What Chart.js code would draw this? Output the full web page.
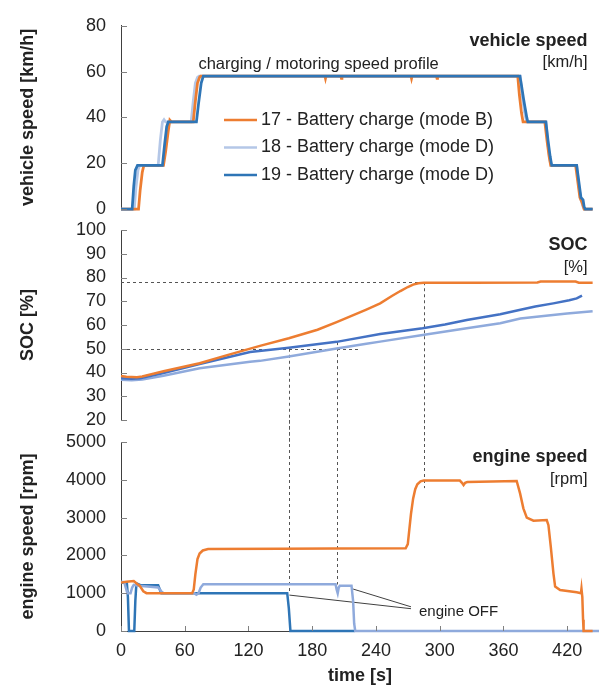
<!DOCTYPE html>
<html lang="en">
<head>
<meta charset="UTF-8" />
<title>Battery charge tests</title>
<script src="https://cdn.jsdelivr.net/npm/chart.js"></script>
<style>
  body { margin: 0; background: #fff; }
  .stack { position: relative; width: 599px; height: 687px; }
  .stack canvas { position: absolute; left: 0; top: 0; }
</style>
</head>
<body>
<div class="stack">
  <canvas id="speedChart" width="599" height="687"></canvas>
  <canvas id="socChart" width="599" height="687"></canvas>
  <canvas id="engineChart" width="599" height="687"></canvas>
</div>
<script>
// [time s, value] pairs
const seriesLabels = ['17 - Battery charge (mode B)', '18 - Battery charge (mode D)', '19 - Battery charge (mode D)'];

const speed17 = [[0,0],[16.5,0],[18,8],[20,16],[21.5,19],[40,19],[42,25],[44.5,34],[46,38.8],[47.5,38],[68,38],[70,47],[72,55],[74,57.5],[75,58],
  [192,58],[192.5,57],[193,58],[207,58],[207.5,57],[208,58],[273,58],[273.5,57],[274,58],[297,58],[297.5,57],[298,58],
  [373.5,58],[375,50],[377,42],[378.5,38],[399,38],[401,30],[403,23],[404.5,19],[428,19],[430,12],[432,5],[434,3],[436,0],[444,0]];
const speed18 = [[0,0],[12.5,0],[14,9],[16,17],[17.5,19],[35,19],[37,30],[39,38],[40.5,39],[42,38],[66,38],[68,47],[70,55],[72,57.5],[73.5,58],
  [376,58],[377.5,50],[380,42],[382,38],[400,38],[402,28],[404,21],[405.5,19],[429,19],[431,10],[433,4],[435,1],[436,0],[444,0]];
const speed19 = [[0,0],[10.5,0],[12,10],[13.5,17],[15.5,19],[39,19],[41,28],[43,36],[44.5,38],[71,38],[73,46],[75.5,55],[77.5,58],
  [375.5,58],[377,54],[379,48],[380.5,44],[382,40],[383,38],[400,38],[402,30],[404,23],[405.5,19],[429,19],[431,12],[433,5],[435,4],[436,1],[437,0],[444,0]];

const soc17 = [[0,38.5],[5,38.2],[15,38],[20,38.3],[40,40.5],[74,43.9],[100,47.3],[130.8,51.2],[158,54.4],[185,58],[203,61.2],[231,66.5],
  [244,69.1],[255,72.2],[263,74.3],[270,76],[275,77],[280,77.6],[285,77.8],[330,77.8],[392,77.9],[395,78.3],[428,78.3],[431,77.8],[444,77.8]];
const soc18 = [[0,36.9],[10,36.7],[20,37],[40,38.6],[74,41.8],[121.5,44.5],[130.8,44.9],[158,46.7],[203,50.1],[231,52.1],[244,53],
  [284,55.8],[325.5,58.6],[357,60.7],[376,62.7],[400,63.9],[420,64.8],[444,65.8]];
const soc19 = [[0,37.6],[10,37.4],[18,37.6],[40,39.8],[74,43.6],[121.5,48.6],[158,50.4],[203,52.9],[244,56.2],[284,58.6],[305,60.2],
  [325.5,62.1],[357,64.5],[375,66.3],[390,67.8],[407,69.1],[422,70.4],[429,71.2],[434,72.4]];

const rpm17 = [[0,1280],[5,1300],[12,1320],[15,1250],[17.5,1200],[21,1050],[24,1000],[67,1000],[68.5,1100],[70,1500],[72,1900],[74,2050],
  [77,2130],[82,2170],[150,2175],[200,2180],[268,2190],[270,2300],[271.5,2700],[273,3100],[275,3500],[277,3750],[279,3880],[282,3960],
  [285,3980],[319,3980],[321,3920],[322.5,3860],[324,3920],[326,3940],[372.5,3970],[375.7,3640],[378.8,3245],[382,3000],[388.3,2920],
  [400.8,2935],[402.4,2800],[404.6,2230],[407.1,1525],[408.7,1175],[413.4,1085],[429,1025],[433,1000],[433.5,1120],[434.3,900],[435,300],[435.5,0],[444,0]];
const rpm18 = [[0,1300],[3,1290],[4.5,1150],[6,1000],[9,1000],[10.5,1150],[12,1220],[16,1200],[25,1180],[35,1150],[38,1050],[40,1000],
  [69,1000],[71,960],[73,1000],[75,1150],[77.5,1235],[202,1235],[203,1100],[204,1000],[205,1150],[206,1200],[217,1200],[218.5,800],
  [219.5,200],[220.5,0],[450,0]];
const rpm19 = [[0,1280],[5.5,1270],[6.5,900],[7.5,0],[12.5,0],[13.5,800],[14.5,1260],[18,1220],[35,1210],[36.5,1100],[38,1000],
  [156.5,1000],[158,600],[159.5,0],[220,0]];

// dashed guides: times and where they start/stop
const guideTimes = [158, 203.3, 285];
const guideSoc = [50, 52.8, 78];
const guideRpm = [1000, 1230, 3780];
const socLevels = [50, 78];
const socLevelEnds = [225, 338];
// "engine OFF" leader lines: [t0, rpm0, t1, rpm1]
const offLeaders = [[158.5, 950, 273, 590], [218.5, 1110, 273, 640]];

const FONT = '"Liberation Sans", Arial, sans-serif';
const TXT = '#222';
const ORANGE = '#ED7D31';
Chart.defaults.font.family = FONT;
Chart.defaults.color = TXT;

function line(label, data, color, width) {
  return {
    label: label,
    data: data.map(p => ({ x: p[0], y: p[1] })),
    borderColor: color,
    backgroundColor: color,
    borderWidth: width,
    pointRadius: 0,
    tension: 0,
    clip: false
  };
}

function yAxis(min, max, step, title) {
  return {
    min: min, max: max,
    ticks: { stepSize: step, padding: 15, autoSkip: false, font: { size: 18 }, color: TXT, callback: v => String(v) },
    grid: { display: false, drawTicks: false },
    border: { display: true, color: '#404040', width: 1 },
    title: { display: true, text: title, color: TXT, font: { size: 18, weight: 'bold' }, padding: { top: 17, bottom: 0 } },
    afterFit(scale) { scale.width = 121; }
  };
}

function xAxis(show) {
  const axis = {
    type: 'linear', min: 0, max: 450, display: show,
    ticks: { stepSize: 60, includeBounds: false, padding: 9, autoSkip: false, maxRotation: 0, font: { size: 18 }, color: TXT, callback: v => String(v) },
    grid: { display: false, drawTicks: false },
    border: { display: true, color: '#404040', width: 1 },
    title: { display: true, text: 'time [s]', color: TXT, font: { size: 18, weight: 'bold' }, padding: 0 }
  };
  if (show) axis.afterFit = scale => { scale.height = 56; };
  return axis;
}

// inward tick marks + panel name on the right
const panelFrame = {
  id: 'panelFrame',
  afterDatasetsDraw(chart, args, opts) {
    const { ctx, chartArea: a, scales: { x, y } } = chart;
    ctx.save();
    ctx.strokeStyle = '#808080';
    ctx.lineWidth = 1;
    ctx.beginPath();
    y.ticks.forEach(t => {
      const py = Math.round(y.getPixelForValue(t.value)) + 0.5;
      ctx.moveTo(a.left, py); ctx.lineTo(a.left + 6, py);
    });
    if (opts.xTicks) {
      x.ticks.forEach(t => {
        const px = Math.round(x.getPixelForValue(t.value)) + 0.5;
        ctx.moveTo(px, a.bottom); ctx.lineTo(px, a.bottom - 5);
      });
    }
    ctx.stroke();
    ctx.fillStyle = TXT;
    ctx.textAlign = 'right';
    ctx.textBaseline = 'middle';
    ctx.font = 'bold 18px ' + FONT;
    ctx.fillText(opts.title, a.right - 11.5, a.top + 15);
    ctx.font = '16.5px ' + FONT;
    ctx.fillText(opts.unit, a.right - 11.5, a.top + 37);
    ctx.restore();
  }
};

const speedNotes = {
  id: 'speedNotes',
  afterDatasetsDraw(chart) {
    const { ctx, scales: { x, y } } = chart;
    ctx.save();
    ctx.fillStyle = TXT;
    ctx.textBaseline = 'middle';
    ctx.textAlign = 'center';
    ctx.font = '16.5px ' + FONT;
    ctx.fillText('charging / motoring speed profile', x.getPixelForValue(186), y.getPixelForValue(63));
    // legend, in series order
    ctx.textAlign = 'left';
    ctx.font = '18px ' + FONT;
    const order = [1, 2, 0];
    order.forEach((di, row) => {
      const ds = chart.data.datasets[di];
      const py = 120 + row * 27.5;
      ctx.strokeStyle = ds.borderColor;
      ctx.lineWidth = 2.5;
      ctx.beginPath(); ctx.moveTo(224, py); ctx.lineTo(257, py); ctx.stroke();
      ctx.fillText(ds.label, 261, py);
    });
    ctx.restore();
  }
};

const socGuides = {
  id: 'socGuides',
  beforeDatasetsDraw(chart) {
    const { ctx, chartArea: a, scales: { x, y } } = chart;
    ctx.save();
    ctx.strokeStyle = '#555';
    ctx.lineWidth = 1;
    ctx.setLineDash([3, 3]);
    ctx.beginPath();
    socLevels.forEach((v, i) => {
      const py = Math.round(y.getPixelForValue(v)) + 0.5;
      ctx.moveTo(a.left, py); ctx.lineTo(x.getPixelForValue(socLevelEnds[i]), py);
    });
    guideTimes.forEach((t, i) => {
      const px = Math.round(x.getPixelForValue(t)) + 0.5;
      ctx.moveTo(px, y.getPixelForValue(guideSoc[i])); ctx.lineTo(px, a.bottom + 22);
    });
    ctx.stroke();
    ctx.restore();
  }
};

const engineNotes = {
  id: 'engineNotes',
  beforeDatasetsDraw(chart) {
    const { ctx, chartArea: a, scales: { x, y } } = chart;
    ctx.save();
    ctx.strokeStyle = '#555';
    ctx.lineWidth = 1;
    ctx.setLineDash([3, 3]);
    ctx.beginPath();
    guideTimes.forEach((t, i) => {
      const px = Math.round(x.getPixelForValue(t)) + 0.5;
      ctx.moveTo(px, a.top - 22); ctx.lineTo(px, y.getPixelForValue(guideRpm[i]));
    });
    ctx.stroke();
    ctx.setLineDash([]);
    ctx.strokeStyle = '#404040';
    ctx.beginPath();
    offLeaders.forEach(l => {
      ctx.moveTo(x.getPixelForValue(l[0]), y.getPixelForValue(l[1]));
      ctx.lineTo(x.getPixelForValue(l[2]), y.getPixelForValue(l[3]));
    });
    ctx.stroke();
    ctx.fillStyle = TXT;
    ctx.font = '15px ' + FONT;
    ctx.textAlign = 'left';
    ctx.textBaseline = 'middle';
    ctx.fillText('engine OFF', x.getPixelForValue(280.5), y.getPixelForValue(511));
    ctx.restore();
  }
};

function baseOptions(yScale, showX, top, bottom, frame) {
  return {
    responsive: false,
    animation: false,
    layout: { padding: { top: top, bottom: bottom, left: 0, right: 0 } },
    scales: { x: xAxis(showX), y: yScale },
    plugins: { legend: { display: false }, tooltip: { enabled: false }, panelFrame: frame }
  };
}

new Chart(document.getElementById('speedChart'), {
  type: 'line',
  data: { datasets: [
    line(seriesLabels[2], speed19, '#2E75B6', 2.75),
    line(seriesLabels[0], speed17, ORANGE, 2.75),
    line(seriesLabels[1], speed18, '#B4C7E7', 2.75)
  ] },
  options: baseOptions(yAxis(0, 80, 20, 'vehicle speed [km/h]'), false, 21, 478,
    { title: 'vehicle speed', unit: '[km/h]' }),
  plugins: [panelFrame, speedNotes]
});

new Chart(document.getElementById('socChart'), {
  type: 'line',
  data: { datasets: [
    line(seriesLabels[0], soc17, ORANGE, 2.5),
    line(seriesLabels[2], soc19, '#4472C4', 2.5),
    line(seriesLabels[1], soc18, '#8FAADC', 2.5)
  ] },
  options: baseOptions(yAxis(20, 100, 10, 'SOC [%]'), false, 230, 267,
    { title: 'SOC', unit: '[%]' }),
  plugins: [panelFrame, socGuides]
});

new Chart(document.getElementById('engineChart'), {
  type: 'line',
  data: { datasets: [
    line(seriesLabels[0], rpm17, ORANGE, 2.5),
    line(seriesLabels[1], rpm18, '#8FAADC', 2.5),
    line(seriesLabels[2], rpm19, '#2E75B6', 2.5)
  ] },
  options: baseOptions(yAxis(0, 5000, 1000, 'engine speed [rpm]'), true, 442, 0,
    { title: 'engine speed', unit: '[rpm]', xTicks: true }),
  plugins: [panelFrame, engineNotes]
});
</script>
</body>
</html>
